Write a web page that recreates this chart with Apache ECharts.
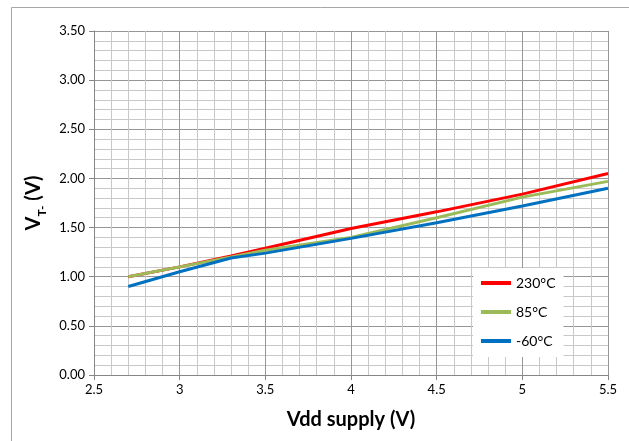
<!DOCTYPE html>
<html><head><meta charset="utf-8">
<script src="https://cdn.jsdelivr.net/npm/echarts@6/dist/echarts.min.js"></script>
<style>html,body{margin:0;padding:0;background:#fff}#c{width:629px;height:441px}</style>
</head><body><div id="c"></div>
<script>
const vdd = [2.7, 3.0, 3.3, 3.5, 4.0, 4.5, 5.0, 5.5];
const t230 = [1.00, 1.10, 1.21, 1.29, 1.49, 1.66, 1.84, 2.05];
const t85 = [1.00, 1.10, 1.20, 1.27, 1.40, 1.60, 1.81, 1.97];
const tm60 = [0.90, 1.05, 1.19, 1.24, 1.39, 1.55, 1.72, 1.90];
const seriesNames = ['230°C', '85°C', '-60°C'];
const seriesColors = ['#ff0000', '#9bbb59', '#0070c0'];
const seriesData = [t230, t85, tm60];
const xTitle = 'Vdd supply (V)';

const FONT = 'Lato';
const chart = echarts.init(document.getElementById('c'), null, {renderer: 'canvas'});
chart.setOption({
  animation: false,
  backgroundColor: '#fff',
  textStyle: {fontFamily: FONT},
  graphic: [{type: 'rect', shape: {x: 11.5, y: 7.5, width: 700, height: 500},
    style: {fill: 'none', stroke: '#a6a6a6', lineWidth: 1}, z: -10}],
  grid: {left: 94, right: 21, top: 31, bottom: 66},
  legend: {
    orient: 'vertical', left: 473, top: 268,
    backgroundColor: '#fff', padding: [7, 8, 8, 8],
    itemWidth: 30, itemHeight: 4, itemGap: 13, icon: 'rect',
    textStyle: {fontFamily: FONT, fontSize: 14, color: '#000', lineHeight: 16},
    data: seriesNames
  },
  xAxis: {
    type: 'value', min: 2.5, max: 5.5, interval: 0.5,
    name: xTitle, nameLocation: 'middle', nameGap: 35,
    nameTextStyle: {fontFamily: FONT, fontSize: 20, fontWeight: 'bold', color: '#000'},
    axisLine: {lineStyle: {color: '#868686'}},
    axisTick: {show: true, length: 5, lineStyle: {color: '#868686'}},
    axisLabel: {fontFamily: FONT, fontSize: 13, color: '#000', margin: 8},
    splitLine: {show: true, lineStyle: {color: '#969696', width: 1}},
    minorTick: {show: false, splitNumber: 5},
    minorSplitLine: {show: true, lineStyle: {color: '#c8c8c8', width: 1}}
  },
  yAxis: {
    type: 'value', min: 0, max: 3.5, interval: 0.5,
    name: '{v|V}{s|T-}{v| (V)}', nameLocation: 'middle', nameGap: 46, nameRotate: 90,
    nameTextStyle: {
      fontFamily: FONT, fontSize: 20, fontWeight: 'bold', color: '#000',
      rich: {
        v: {fontFamily: FONT, fontSize: 20, fontWeight: 'bold', color: '#000', lineHeight: 24, verticalAlign: 'bottom'},
        s: {fontFamily: FONT, fontSize: 12, fontWeight: 'bold', color: '#000', lineHeight: 24, verticalAlign: 'bottom', padding: [0, 0, -5, 0]}
      }
    },
    axisLine: {show: true, lineStyle: {color: '#868686'}},
    axisTick: {show: true, length: 5, lineStyle: {color: '#868686'}},
    axisLabel: {fontFamily: FONT, fontSize: 13, color: '#000', margin: 9,
      formatter: v => v.toFixed(2)},
    splitLine: {show: true, lineStyle: {color: '#969696', width: 1}},
    minorTick: {show: false, splitNumber: 5},
    minorSplitLine: {show: true, lineStyle: {color: '#c8c8c8', width: 1}}
  },
  series: seriesNames.map((n, i) => ({
    name: n, type: 'line', showSymbol: false, symbol: 'none',
    data: vdd.map((x, j) => [x, seriesData[i][j]]),
    lineStyle: {color: seriesColors[i], width: 3},
    itemStyle: {color: seriesColors[i]}
  }))
});
</script></body></html>
